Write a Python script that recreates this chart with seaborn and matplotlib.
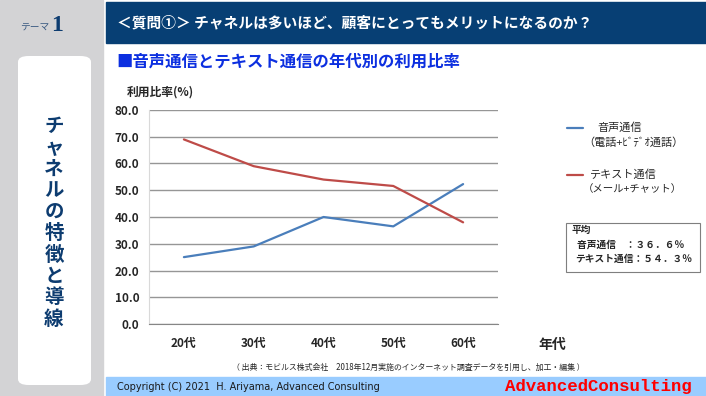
import matplotlib
matplotlib.use("Agg")
import matplotlib.pyplot as plt
from matplotlib.patches import Rectangle, FancyBboxPatch
from matplotlib.lines import Line2D
import seaborn as sns
import pandas as pd

# data
ages = ["20代", "30代", "40代", "50代", "60代"]
voice = [25.0, 29.0, 40.0, 36.5, 52.3]
text_msg = [69.0, 59.0, 54.0, 51.6, 38.0]
series_names = ["音声通信", "テキスト通信"]
yticks = [0, 10, 20, 30, 40, 50, 60, 70, 80]

BLUE = "#4a7ebb"
RED = "#be4b48"
NAVY = "#0d3c70"

df = pd.DataFrame({
    "age": ages * 2,
    "rate": voice + text_msg,
    "series": [series_names[0]] * len(ages) + [series_names[1]] * len(ages),
})

sns.set_style("white")
plt.rcParams["font.family"] = ["Noto Sans CJK JP", "DejaVu Sans"]

W, H = 706, 396
fig = plt.figure(figsize=(W / 100, H / 100), dpi=100)


def fx(px):
    return px / W


def fy(py):
    return 1 - py / H


# background decorations
fig.add_artist(Rectangle((0, 0), fx(103), 1, transform=fig.transFigure,
                         color="#d3d3d5", zorder=0))
fig.add_artist(Rectangle((fx(106), fy(43)), 1 - fx(106), fy(2) - fy(43),
                         transform=fig.transFigure, color="#073f74", zorder=0))
fig.add_artist(Rectangle((fx(106), 0), 1 - fx(106), fy(377),
                         transform=fig.transFigure, color="#99ccff", zorder=0))
fig.add_artist(FancyBboxPatch((fx(18), fy(385)), fx(73), fy(56) - fy(385),
                              boxstyle="round,pad=0,rounding_size=0.015",
                              transform=fig.transFigure, facecolor="white",
                              edgecolor="none", zorder=1))

# header texts
fig.text(fx(20), fy(30), "テーマ", fontsize=7, color="#3b5b82", va="baseline")
fig.text(fx(51), fy(31), "1", fontsize=17, color=NAVY, fontweight="bold",
         family="Liberation Serif", va="baseline")
fig.text(fx(117), fy(22), "＜質問①＞ チャネルは多いほど、顧客にとってもメリットになるのか？",
         fontsize=10.6, color="white", fontweight="bold", va="center")
fig.text(fx(116), fy(62), "■音声通信とテキスト通信の年代別の利用比率",
         fontsize=11.8, color="#0c2fe0", fontweight="bold", va="center")
fig.text(fx(54), fy(223), "\n".join("チャネルの特徴と導線"), fontsize=14,
         color=NAVY, fontweight="bold", ha="center", va="center", linespacing=1.16)

# chart
ax = fig.add_axes([fx(149), fy(324), fx(498) - fx(149), fy(110) - fy(324)])
sns.lineplot(data=df, x="age", y="rate", hue="series", palette=[BLUE, RED],
             linewidth=1.6, legend=False, ax=ax, sort=False)
ax.set_xlim(-0.5, len(ages) - 0.5)
ax.set_ylim(0, 80)
ax.set_yticks(yticks)
ax.set_yticklabels([f"{v:.1f}" for v in yticks], fontsize=8.5, fontweight="bold")
ax.set_xticks(range(len(ages)))
ax.set_xticklabels(ages, fontsize=8.5, fontweight="bold")
ax.set_xticks([i - 0.5 for i in range(len(ages) + 1)], minor=True)
ax.tick_params(axis="x", which="major", length=0, pad=9)
ax.tick_params(axis="x", which="minor", length=4, color="#868686", width=1)
ax.tick_params(axis="y", length=0, pad=7)
ax.grid(axis="y", color="#969696", linewidth=1)
ax.set_axisbelow(True)
for s in ["top", "right"]:
    ax.spines[s].set_visible(False)
ax.spines["left"].set_color("#d9d9d9")
ax.spines["bottom"].set_color("#868686")
ax.set_xlabel("")
ax.set_ylabel("")

fig.text(fx(127), fy(92), "利用比率(%)", fontsize=8.5, fontweight="bold", va="center")
fig.text(fx(538), fy(345), "年代", fontsize=10, fontweight="bold", va="center")

# legend
fig.add_artist(Line2D([fx(567), fx(583)], [fy(128), fy(128)], color=BLUE, lw=1.6))
fig.text(fx(597), fy(128), "音声通信", fontsize=8, va="center")
fig.text(fx(583), fy(143), "（電話+ﾋﾞﾃﾞｵ通話）", fontsize=8, va="center")
fig.add_artist(Line2D([fx(567), fx(583)], [fy(175), fy(175)], color=RED, lw=1.6))
fig.text(fx(590), fy(175), "テキスト通信", fontsize=8, va="center")
fig.text(fx(583), fy(189), "（メール+チャット）", fontsize=7.5, va="center")

# average box
fig.add_artist(Rectangle((fx(566), fy(272)), fx(700) - fx(566), fy(223) - fy(272),
                         transform=fig.transFigure, facecolor="white",
                         edgecolor="#7f7f7f", lw=0.8))
fig.text(fx(572), fy(230), "平均", fontsize=7, fontweight="bold", va="center")
fig.text(fx(577), fy(245), "音声通信　：３６．６％", fontsize=7, fontweight="bold", va="center")
fig.text(fx(575), fy(259), "テキスト通信：５４．３％", fontsize=7, fontweight="bold", va="center")

# footnotes
fig.text(fx(232), fy(367), "（ 出典：モビルス株式会社　2018年12月実施のインターネット調査データを引用し、加工・編集 ）",
         fontsize=5.7, va="center")
fig.text(fx(117), fy(387), "Copyright (C) 2021  H. Ariyama, Advanced Consulting",
         fontsize=7, va="center", family="DejaVu Sans", color="#1a1a1a")
fig.text(fx(505), fy(387), "AdvancedConsulting", fontsize=12.5, color="#ff0000",
         family="Liberation Mono", fontweight="bold", va="center")

fig.savefig("out.png", dpi=100)
